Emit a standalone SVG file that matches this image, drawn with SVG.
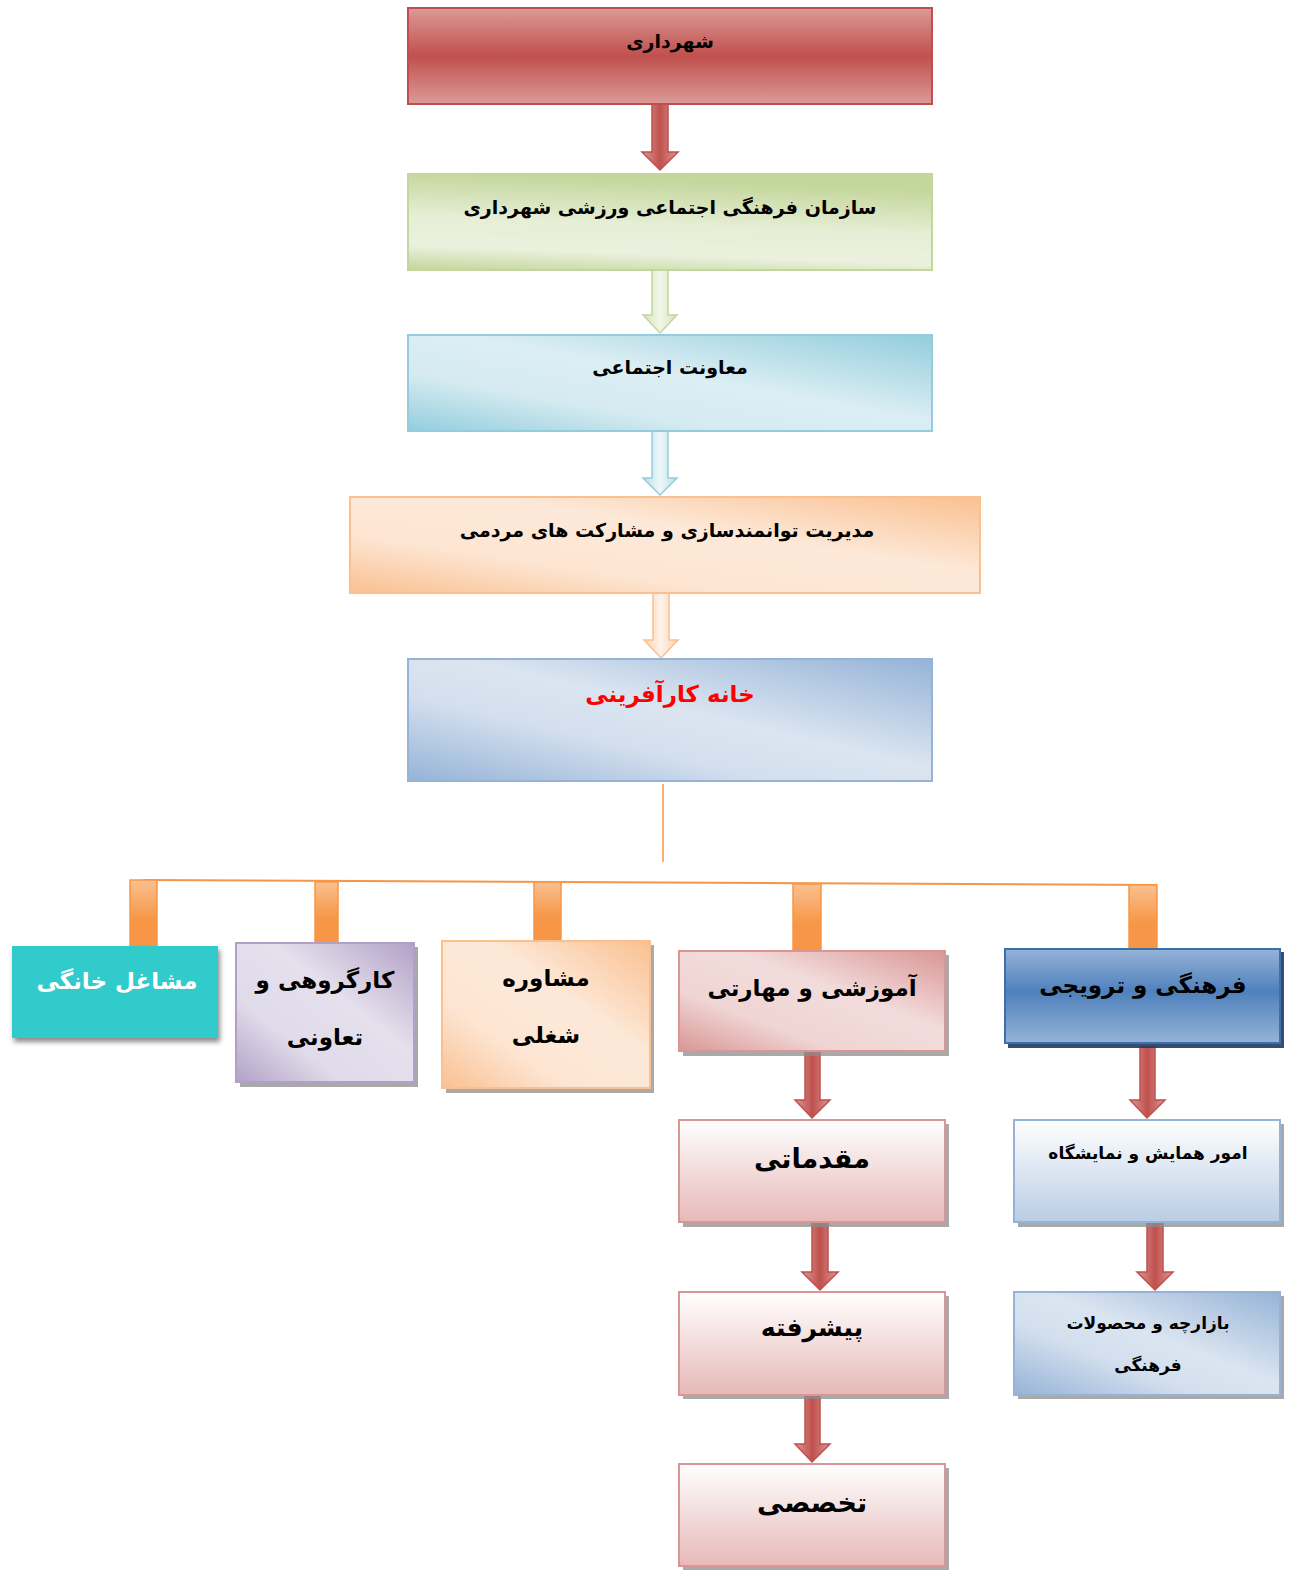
<svg xmlns="http://www.w3.org/2000/svg" width="1302" height="1589" viewBox="0 0 1302 1589">
<defs>
<linearGradient id="gRed" x1="0" y1="0" x2="0" y2="1">
<stop offset="0" stop-color="#dc9a98"/><stop offset="0.5" stop-color="#c0504d"/><stop offset="1" stop-color="#dc9a98"/>
</linearGradient>
<linearGradient id="gGreen" x1="0.2" y1="0" x2="0" y2="1">
<stop offset="0" stop-color="#c3d69b"/><stop offset="0.45" stop-color="#e6eed5"/><stop offset="0.75" stop-color="#ebf1de"/><stop offset="1" stop-color="#c3d69b"/>
</linearGradient>
<linearGradient id="gCyan" x1="1" y1="0" x2="0" y2="1">
<stop offset="0" stop-color="#93cddd"/><stop offset="0.45" stop-color="#dbeef3"/><stop offset="0.7" stop-color="#d5ebf1"/><stop offset="1" stop-color="#93cddd"/>
</linearGradient>
<linearGradient id="gOrange" x1="1" y1="0" x2="0" y2="1">
<stop offset="0" stop-color="#fac090"/><stop offset="0.4" stop-color="#fde9d9"/><stop offset="0.7" stop-color="#fde5d2"/><stop offset="1" stop-color="#fac090"/>
</linearGradient>
<linearGradient id="gBlue" x1="1" y1="0" x2="0" y2="1">
<stop offset="0" stop-color="#95b3d7"/><stop offset="0.45" stop-color="#dbe5f1"/><stop offset="0.65" stop-color="#d3dfee"/><stop offset="1" stop-color="#95b3d7"/>
</linearGradient>
<linearGradient id="gPurple" x1="1" y1="0" x2="0" y2="1">
<stop offset="0" stop-color="#b2a1c7"/><stop offset="0.4" stop-color="#e5e0ec"/><stop offset="0.7" stop-color="#e0dbe9"/><stop offset="1" stop-color="#b2a1c7"/>
</linearGradient>
<linearGradient id="gPink" x1="1" y1="0" x2="0" y2="1">
<stop offset="0" stop-color="#d99694"/><stop offset="0.4" stop-color="#f2dcdb"/><stop offset="0.7" stop-color="#efd5d4"/><stop offset="1" stop-color="#d99694"/>
</linearGradient>
<linearGradient id="gDeepBlue" x1="0" y1="0" x2="0" y2="1">
<stop offset="0" stop-color="#95b3d7"/><stop offset="0.45" stop-color="#4f81bd"/><stop offset="1" stop-color="#95b3d7"/>
</linearGradient>
<linearGradient id="gPinkV" x1="0" y1="0" x2="0" y2="1">
<stop offset="0" stop-color="#ffffff"/><stop offset="1" stop-color="#e6b9b8"/>
</linearGradient>
<linearGradient id="gBlueV" x1="0" y1="0" x2="0" y2="1">
<stop offset="0" stop-color="#ffffff"/><stop offset="1" stop-color="#b9cde5"/>
</linearGradient>
<linearGradient id="aRed" x1="0" y1="0" x2="1" y2="0">
<stop offset="0" stop-color="#dc9a98"/><stop offset="0.5" stop-color="#c0504d"/><stop offset="1" stop-color="#dc9a98"/>
</linearGradient>
<linearGradient id="aGreen" x1="0" y1="0" x2="1" y2="0">
<stop offset="0" stop-color="#d7e4bd"/><stop offset="0.5" stop-color="#f1f6e8"/><stop offset="1" stop-color="#d7e4bd"/>
</linearGradient>
<linearGradient id="aCyan" x1="0" y1="0" x2="1" y2="0">
<stop offset="0" stop-color="#b7dee8"/><stop offset="0.5" stop-color="#eef7fa"/><stop offset="1" stop-color="#b7dee8"/>
</linearGradient>
<linearGradient id="aOrange" x1="0" y1="0" x2="1" y2="0">
<stop offset="0" stop-color="#fbd4b4"/><stop offset="0.5" stop-color="#fef2e8"/><stop offset="1" stop-color="#fbd4b4"/>
</linearGradient>
<linearGradient id="stub" x1="0" y1="0" x2="0" y2="1">
<stop offset="0" stop-color="#fac090"/><stop offset="0.6" stop-color="#f79646"/><stop offset="1" stop-color="#f79646"/>
</linearGradient>
<filter id="soft" x="-10%" y="-10%" width="130%" height="140%">
<feDropShadow dx="2" dy="4" stdDeviation="2.5" flood-color="#000" flood-opacity="0.45"/>
</filter>
</defs>
<style>
text{font-family:"DejaVu Sans",sans-serif;font-weight:bold;text-anchor:middle;fill:#000;}
.t18{font-size:17px;}
.t20{font-size:19px;}
.t24{font-size:23px;}
.sh{fill:#8c8c8c;opacity:0.75;}
.ar{stroke-width:1.5;}
</style>
<rect width="1302" height="1589" fill="#ffffff"/>

<g id="connectors">
<path class="ar" d="M652,104 L668,104 L668,152 L678,152 L660,170 L642,152 L652,152 Z" fill="url(#aRed)" stroke="#c0504d"/>
<path class="ar" d="M652,270 L668,270 L668,315 L677,315 L660,333 L643,315 L652,315 Z" fill="url(#aGreen)" stroke="#c3d69b"/>
<path class="ar" d="M652,431 L668,431 L668,478 L677,478 L660,495 L643,478 L652,478 Z" fill="url(#aCyan)" stroke="#93cddd"/>
<path class="ar" d="M653,593 L669,593 L669,640 L678,640 L661,658 L644,640 L653,640 Z" fill="url(#aOrange)" stroke="#fac090"/>
<line x1="663" y1="784" x2="663" y2="862" stroke="#f79646" stroke-width="1.5"/>
<line x1="143" y1="880" x2="1157" y2="885" stroke="#f79646" stroke-width="2"/>
<rect x="130" y="880" width="27" height="66" fill="url(#stub)" stroke="#f79646" stroke-width="1.5"/>
<rect x="315" y="882" width="23" height="61" fill="url(#stub)" stroke="#f79646" stroke-width="1.5"/>
<rect x="534" y="882" width="27" height="59" fill="url(#stub)" stroke="#f79646" stroke-width="1.5"/>
<rect x="793" y="884" width="28" height="67" fill="url(#stub)" stroke="#f79646" stroke-width="1.5"/>
<rect x="1129" y="885" width="28" height="64" fill="url(#stub)" stroke="#f79646" stroke-width="1.5"/>
<path class="ar" d="M805,1051 L820,1051 L820,1100 L830,1100 L812,1118 L795,1100 L805,1100 Z" fill="url(#aRed)" stroke="#c0504d"/>
<path class="ar" d="M812,1222 L828,1222 L828,1272 L838,1272 L820,1290 L802,1272 L812,1272 Z" fill="url(#aRed)" stroke="#c0504d"/>
<path class="ar" d="M805,1395 L820,1395 L820,1444 L830,1444 L812,1462 L795,1444 L805,1444 Z" fill="url(#aRed)" stroke="#c0504d"/>
<path class="ar" d="M1140,1047 L1155,1047 L1155,1100 L1165,1100 L1147,1118 L1130,1100 L1140,1100 Z" fill="url(#aRed)" stroke="#c0504d"/>
<path class="ar" d="M1147,1222 L1163,1222 L1163,1272 L1173,1272 L1155,1290 L1137,1272 L1147,1272 Z" fill="url(#aRed)" stroke="#c0504d"/>
</g>

<g id="n-shahrdari">
<rect x="408" y="8" width="524" height="96" fill="url(#gRed)" stroke="#c0504d" stroke-width="2"/>
<text class="t20" x="670" y="48">شهرداری</text>
</g>
<g id="n-sazman">
<rect x="408" y="174" width="524" height="96" fill="url(#gGreen)" stroke="#c3d69b" stroke-width="2"/>
<text class="t20" x="670" y="214">سازمان فرهنگی اجتماعی ورزشی شهرداری</text>
</g>
<g id="n-moavenat">
<rect x="408" y="335" width="524" height="96" fill="url(#gCyan)" stroke="#93cddd" stroke-width="2"/>
<text class="t20" x="670" y="374">معاونت اجتماعی</text>
</g>
<g id="n-modiriat">
<rect x="350" y="497" width="630" height="96" fill="url(#gOrange)" stroke="#fac090" stroke-width="2"/>
<text class="t20" x="667" y="537">مدیریت توانمندسازی و مشارکت های مردمی</text>
</g>
<g id="n-khane">
<rect x="408" y="659" width="524" height="122" fill="url(#gBlue)" stroke="#95b3d7" stroke-width="2"/>
<text class="t24" x="670" y="702" style="fill:#ff0000">خانه کارآفرینی</text>
</g>

<g id="n-mashaghel">
<rect x="12" y="946" width="206" height="92" fill="#31cbcb" filter="url(#soft)"/>
<text class="t24" x="117" y="989" style="fill:#ffffff">مشاغل خانگی</text>
</g>
<g id="n-kargorouhi">
<rect class="sh" x="240" y="947" width="178" height="140"/>
<rect x="236" y="943" width="178" height="139" fill="url(#gPurple)" stroke="#b2a1c7" stroke-width="2"/>
<text class="t24" x="325" y="988">کارگروهی و</text>
<text class="t24" x="325" y="1045">تعاونی</text>
</g>
<g id="n-moshavere">
<rect class="sh" x="446" y="945" width="208" height="148"/>
<rect x="442" y="941" width="208" height="147" fill="url(#gOrange)" stroke="#fac090" stroke-width="2"/>
<text class="t24" x="546" y="986">مشاوره</text>
<text class="t24" x="546" y="1043">شغلی</text>
</g>
<g id="n-amoozeshi">
<rect class="sh" x="683" y="955" width="266" height="101"/>
<rect x="679" y="951" width="266" height="100" fill="url(#gPink)" stroke="#d99694" stroke-width="2"/>
<text class="t24" x="812" y="996">آموزشی و مهارتی</text>
</g>
<g id="n-farhangi">
<rect x="1008" y="952" width="276" height="96" fill="#1f3a60" opacity="0.9"/>
<rect x="1005" y="949" width="275" height="94" fill="url(#gDeepBlue)" stroke="#3f6fa8" stroke-width="2"/>
<text class="t24" x="1143" y="993">فرهنگی  و ترویجی</text>
</g>
<g id="n-moghaddamati">
<rect class="sh" x="683" y="1124" width="266" height="103"/>
<rect x="679" y="1120" width="266" height="102" fill="url(#gPinkV)" stroke="#d99694" stroke-width="2"/>
<text class="t24" x="812" y="1168" style="font-size:27px">مقدماتی</text>
</g>
<g id="n-pishrafte">
<rect class="sh" x="683" y="1296" width="266" height="103"/>
<rect x="679" y="1292" width="266" height="103" fill="url(#gPinkV)" stroke="#d99694" stroke-width="2"/>
<text class="t24" x="812" y="1336" style="font-size:25px">پیشرفته</text>
</g>
<g id="n-takhassosi">
<rect class="sh" x="683" y="1468" width="266" height="102"/>
<rect x="679" y="1464" width="266" height="102" fill="url(#gPinkV)" stroke="#d99694" stroke-width="2"/>
<text class="t24" x="812" y="1512" style="font-size:27px">تخصصی</text>
</g>
<g id="n-hamayesh">
<rect class="sh" x="1018" y="1124" width="266" height="103"/>
<rect x="1014" y="1120" width="266" height="102" fill="url(#gBlueV)" stroke="#95b3d7" stroke-width="2"/>
<text class="t18" x="1148" y="1159">امور همایش و نمایشگاه</text>
</g>
<g id="n-bazarche">
<rect class="sh" x="1018" y="1296" width="266" height="103"/>
<rect x="1014" y="1292" width="266" height="103" fill="url(#gBlue)" stroke="#95b3d7" stroke-width="2"/>
<text class="t18" x="1148" y="1329">بازارچه و محصولات</text>
<text class="t18" x="1148" y="1371">فرهنگی</text>
</g>
</svg>
